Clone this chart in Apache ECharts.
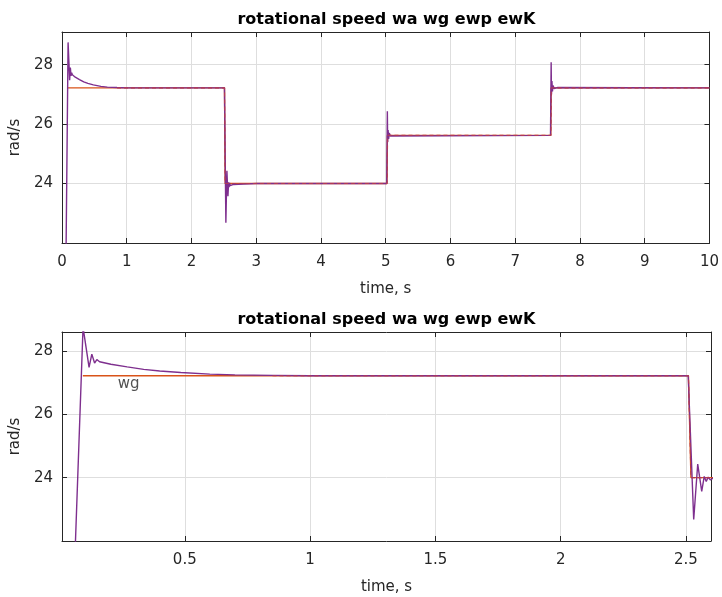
<!DOCTYPE html>
<html><head><meta charset="utf-8">
<script src="https://cdn.jsdelivr.net/npm/echarts@6/dist/echarts.min.js"></script>
<style>html,body{margin:0;padding:0;background:#fff}#c{width:722px;height:597px}</style>
</head><body><div id="c"></div>
<script>
// ---- texts ----
const titleText = 'rotational speed wa wg ewp ewK';
const xName = 'time, s';
const yName = 'rad/s';
const annotText = 'wg';
const annotTime = 0.276;
const annotSpeed = 26.97;

// ---- tick values ----
const topXTicks = [0, 1, 2, 3, 4, 5, 6, 7, 8, 9, 10];
const bottomXTicks = [0.5, 1, 1.5, 2, 2.5];
const yTicks = [24, 26, 28];

// ---- axis ranges ----
const topXRange = [0, 10];
const topYRange = [22, 29.1];
const bottomXRange = [0.01, 2.6];
const bottomYRange = [22, 28.6];

// ---- wa (purple) ----
const waTime  = [0.01, 0.062, 0.094, 0.118, 0.129, 0.140, 0.149, 0.160, 0.205, 0.270, 0.336, 0.400, 0.484, 0.600, 0.700, 0.850, 1.000, 2.509,
                 2.531, 2.547, 2.563, 2.573, 2.581, 2.589, 2.597, 2.610, 2.650, 2.800, 3.000, 5.015,
                 5.025, 5.030, 5.037, 5.045, 5.055, 5.070, 5.100, 7.545,
                 7.555, 7.560, 7.567, 7.575, 7.585, 7.600, 7.650, 10.0];
const waSpeed = [21.6, 21.6, 28.75, 27.48, 27.90, 27.62, 27.73, 27.66, 27.58, 27.50, 27.42, 27.37, 27.32, 27.27, 27.245, 27.23, 27.22, 27.22,
                 22.68, 24.43, 23.57, 24.04, 23.88, 24.02, 23.93, 23.99, 23.97, 23.98, 24.0, 24.0,
                 26.43, 25.40, 25.80, 25.50, 25.70, 25.60, 25.63, 25.62,
                 28.08, 27.00, 27.45, 27.10, 27.30, 27.20, 27.23, 27.22];

// ---- wg (orange, reference) ----
const wgTime  = [0.093, 2.510, 2.520, 5.020, 5.025, 7.550, 7.555, 10.0];
const wgSpeed = [27.22, 27.22, 24.0, 24.0, 25.62, 25.62, 27.22, 27.22];

// ---- ewp (red dashed, settled) ----
const ewpTime  = [0.85, 2.510, 2.520, 5.020, 5.030, 7.550, 7.560, 10.0];
const ewpSpeed = [27.22, 27.22, 24.0, 24.0, 25.62, 25.62, 27.22, 27.22];

const zip = (t, v) => t.map((x, i) => [x, v[i]]);

const FONT = '"DejaVu Sans", Verdana, sans-serif';
const FS = 15;
const AX = '#262626';
const GRIDC = '#dedede';

function xAxes(gi, range, ticks, useCustom) {
  const main = {
    type: 'value', gridIndex: gi, min: range[0], max: range[1], position: 'bottom',
    name: xName, nameLocation: 'middle', nameGap: 39,
    nameTextStyle: {color: AX, fontSize: FS, fontFamily: FONT},
    axisLine: {show: true, onZero: false, lineStyle: {color: AX, width: 1}},
    axisTick: {show: true, inside: true, length: 5, lineStyle: {color: AX}},
    axisLabel: {show: true, color: AX, fontSize: FS, fontFamily: FONT, margin: 12, showMinLabel: true, showMaxLabel: true},
    splitLine: {show: true, lineStyle: {color: GRIDC, width: 1}}
  };
  const mirror = {
    type: 'value', gridIndex: gi, min: range[0], max: range[1], position: 'top',
    axisLine: {show: true, onZero: false, lineStyle: {color: AX, width: 1}},
    axisTick: {show: true, inside: true, length: 5, lineStyle: {color: AX}},
    axisLabel: {show: false}, splitLine: {show: false}
  };
  if (useCustom) {
    main.axisTick.customValues = ticks; main.axisLabel.customValues = ticks;
    mirror.axisTick.customValues = ticks; mirror.axisLabel.customValues = ticks;
  } else {
    main.interval = ticks[1] - ticks[0]; mirror.interval = ticks[1] - ticks[0];
  }
  return [main, mirror];
}
function yAxes(gi, range) {
  const iv = yTicks[1] - yTicks[0];
  const main = {
    type: 'value', gridIndex: gi, min: range[0], max: range[1], interval: iv, position: 'left',
    name: yName, nameLocation: 'middle', nameGap: 27,
    nameTextStyle: {color: AX, fontSize: FS, fontFamily: FONT},
    axisLine: {show: true, onZero: false, lineStyle: {color: AX, width: 1}},
    axisTick: {show: true, inside: true, length: 5, lineStyle: {color: AX}},
    axisLabel: {show: true, color: AX, fontSize: FS, fontFamily: FONT, margin: 9, showMinLabel: false, showMaxLabel: false},
    splitLine: {show: true, lineStyle: {color: GRIDC, width: 1}}
  };
  const mirror = {
    type: 'value', gridIndex: gi, min: range[0], max: range[1], interval: iv, position: 'right',
    axisLine: {show: true, onZero: false, lineStyle: {color: AX, width: 1}},
    axisTick: {show: true, inside: true, length: 5, lineStyle: {color: AX}},
    axisLabel: {show: false}, splitLine: {show: false}
  };
  return [main, mirror];
}

function seriesFor(xi, yi, withAnnot) {
  const base = {type: 'line', xAxisIndex: xi, yAxisIndex: yi, showSymbol: false, symbol: 'none', animation: false, clip: true, silent: true};
  const s = [
    Object.assign({}, base, {name: 'wg', data: zip(wgTime, wgSpeed), lineStyle: {color: '#D95319', width: 1.4}, z: 2}),
    Object.assign({}, base, {name: 'wa', data: zip(waTime, waSpeed), lineStyle: {color: '#7E2F8E', width: 1.4}, z: 3}),
    Object.assign({}, base, {name: 'ewp', data: zip(ewpTime, ewpSpeed), lineStyle: {color: '#B23A55', width: 1.1, type: [4, 3]}, z: 4})
  ];
  if (withAnnot) {
    s.push({type: 'scatter', xAxisIndex: xi, yAxisIndex: yi, symbolSize: 0, animation: false, silent: true,
      data: [[annotTime, annotSpeed]],
      label: {show: true, position: 'inside', formatter: annotText, color: AX, fontSize: FS, fontFamily: FONT}});
  }
  return s;
}

const chart = echarts.init(document.getElementById('c'), null, {renderer: 'canvas'});
chart.setOption({
  backgroundColor: '#ffffff',
  animation: false,
  grid: [
    {left: 62, top: 32, width: 649, height: 211, containLabel: false},
    {left: 62, top: 332, width: 649, height: 209, containLabel: false}
  ],
  xAxis: [...xAxes(0, topXRange, topXTicks, false), ...xAxes(1, bottomXRange, bottomXTicks, true)],
  yAxis: [...yAxes(0, topYRange), ...yAxes(1, bottomYRange)],
  graphic: [
    {type: 'text', x: 386.5, y: 19.5, style: {text: titleText, textAlign: 'center', textVerticalAlign: 'middle', font: 'bold 16px ' + FONT, fill: '#000'}},
    {type: 'text', x: 386.5, y: 320, style: {text: titleText, textAlign: 'center', textVerticalAlign: 'middle', font: 'bold 16px ' + FONT, fill: '#000'}}
  ],
  series: [...seriesFor(0, 0, false), ...seriesFor(2, 2, true)]
});
</script>
</body></html>
